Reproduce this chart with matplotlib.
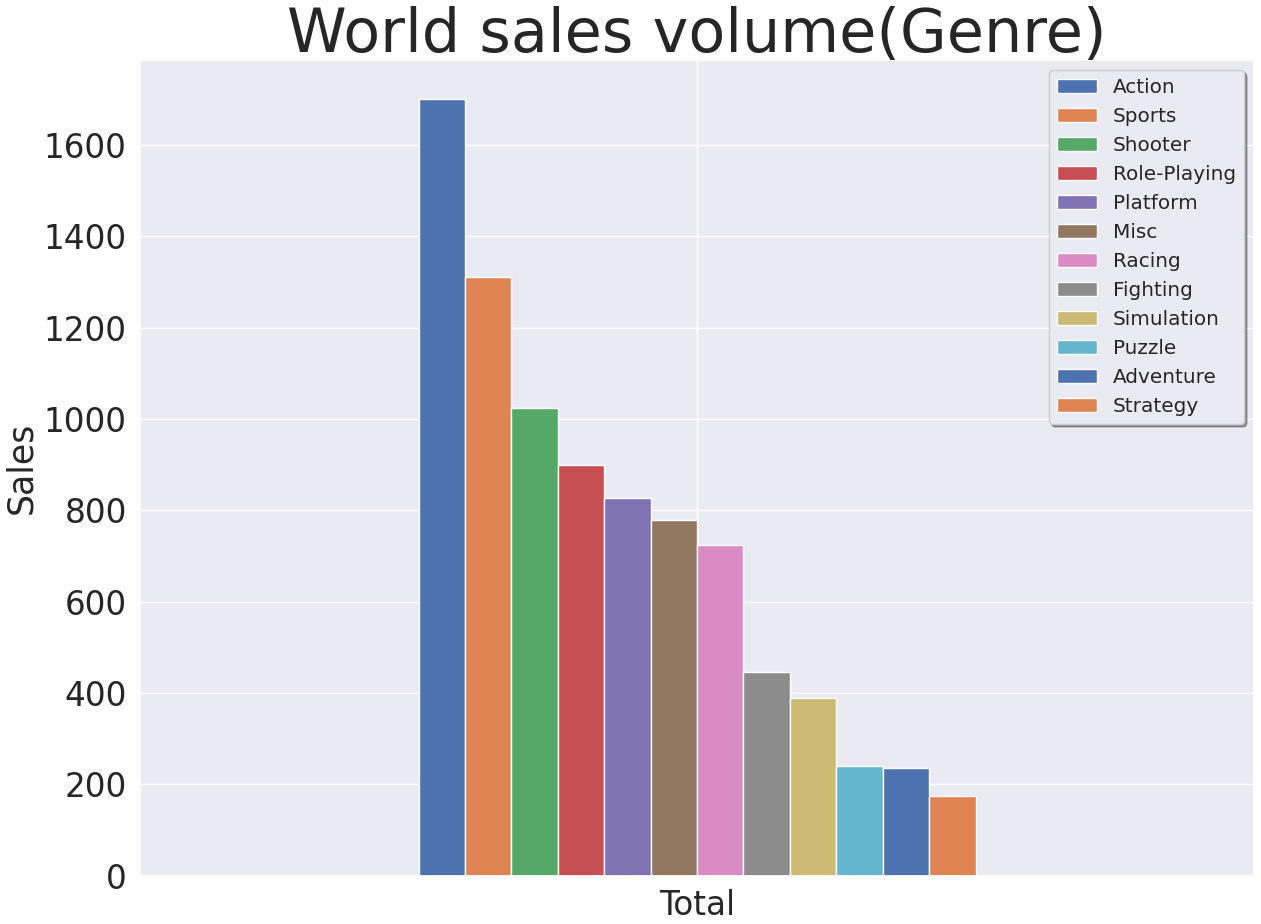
import matplotlib
matplotlib.use("Agg")
import matplotlib.pyplot as plt
import seaborn as sns
import pandas as pd

genres = ["Action", "Sports", "Shooter", "Role-Playing", "Platform", "Misc",
          "Racing", "Fighting", "Simulation", "Puzzle", "Adventure", "Strategy"]
sales = [1701, 1311, 1024, 900, 827, 778, 723, 445, 390, 241, 235, 174]
index_labels = ["Total"]

sns.set_theme()
plt.rcParams['font.family'] = ['DejaVu Sans']

df = pd.DataFrame([sales], columns=genres, index=index_labels)

fig = plt.figure(figsize=(12.61, 9.24), dpi=100)
ax = fig.add_axes([140/1261, (924-875.6)/924, (1254-140)/1261, (875.6-60)/924])
df.plot(kind="bar", ax=ax, color=sns.color_palette("deep", 10), edgecolor="white", linewidth=1)
ax.set_title("World sales volume(Genre)", fontsize=43.5)
ax.set_ylabel("Sales", fontsize=25)
ax.tick_params(axis="both", labelsize=23.5)
ax.set_xticklabels(index_labels, rotation=0)
ax.legend(fontsize=14.4, shadow=True, frameon=True, loc="upper right")
fig.savefig("out.png", dpi=100)
